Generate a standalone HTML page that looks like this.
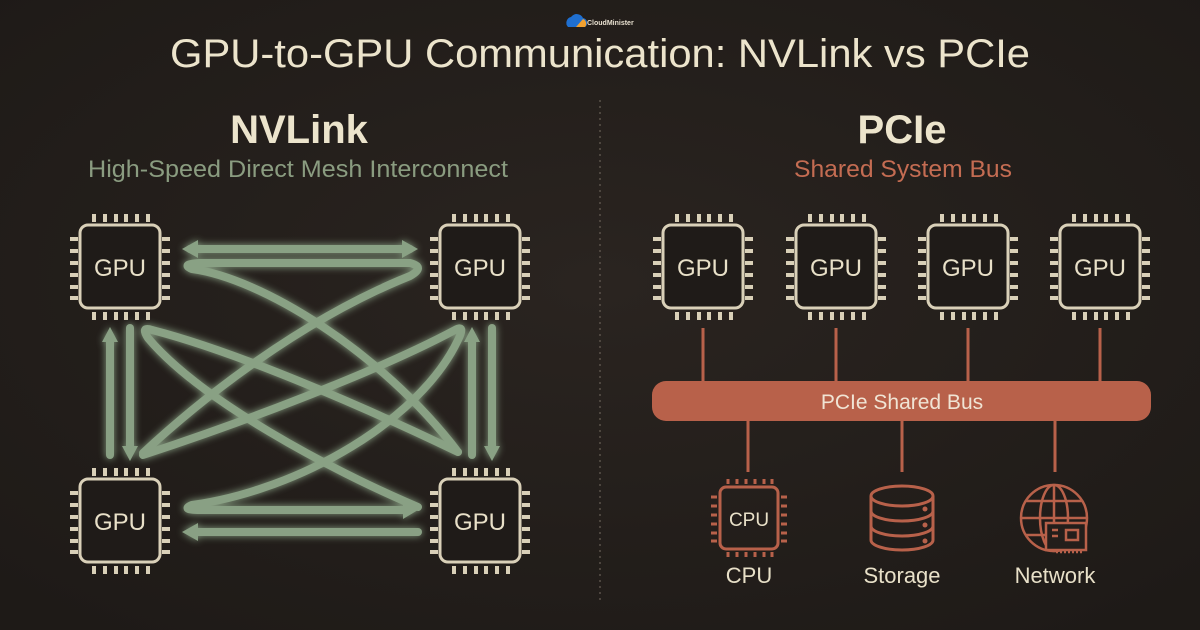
<!DOCTYPE html>
<html><head><meta charset="utf-8"><style>
html,body{margin:0;padding:0;background:#231e1b;}
svg{display:block}
text{font-family:"Liberation Sans",sans-serif;}
</style></head><body>
<svg width="1200" height="630" viewBox="0 0 1200 630" xmlns="http://www.w3.org/2000/svg">
<defs>
<radialGradient id="bg" cx="50%" cy="45%" r="70%"><stop offset="0" stop-color="#2a2420"/><stop offset="1" stop-color="#1e1a17"/></radialGradient>
<filter id="glow" x="-20%" y="-20%" width="140%" height="140%"><feGaussianBlur stdDeviation="4" result="b"/><feMerge><feMergeNode in="b"/><feMergeNode in="SourceGraphic"/></feMerge></filter>
<g id="chip">
<rect x="0" y="0" width="80" height="83" rx="8" fill="#1f1b18" stroke="#d9d0b8" stroke-width="3"/>
<g fill="#d9d0b8">
<rect x="12" y="-11" width="4" height="8"/><rect x="23" y="-11" width="4" height="8"/><rect x="34" y="-11" width="4" height="8"/><rect x="44" y="-11" width="4" height="8"/><rect x="55" y="-11" width="4" height="8"/><rect x="66" y="-11" width="4" height="8"/>
<rect x="12" y="87" width="4" height="8"/><rect x="23" y="87" width="4" height="8"/><rect x="34" y="87" width="4" height="8"/><rect x="44" y="87" width="4" height="8"/><rect x="55" y="87" width="4" height="8"/><rect x="66" y="87" width="4" height="8"/>
<rect x="-10" y="12" width="8" height="4"/><rect x="-10" y="24" width="8" height="4"/><rect x="-10" y="36" width="8" height="4"/><rect x="-10" y="48" width="8" height="4"/><rect x="-10" y="60" width="8" height="4"/><rect x="-10" y="71" width="8" height="4"/>
<rect x="82" y="12" width="8" height="4"/><rect x="82" y="24" width="8" height="4"/><rect x="82" y="36" width="8" height="4"/><rect x="82" y="48" width="8" height="4"/><rect x="82" y="60" width="8" height="4"/><rect x="82" y="71" width="8" height="4"/>
</g>
<text x="40" y="51" font-size="24" fill="#e8e0c8" text-anchor="middle">GPU</text>
</g>
</defs>
<rect width="1200" height="630" fill="url(#bg)"/>

<!-- logo -->
<path d="M568 27 a6 6 0 0 1 3-10 a7 7 0 0 1 12 1 a5 5 0 0 1 2 9 z" fill="#1f6fd0"/>
<path d="M576 27 l7-8 a5 5 0 0 1 2 8 z" fill="#f0a030"/>
<text x="587" y="25" font-size="7" fill="#e8e0d0" font-family="Liberation Serif,serif" font-weight="bold">CloudMinister</text>

<text x="600" y="67" font-size="40" fill="#ece4cc" text-anchor="middle" textLength="860" lengthAdjust="spacingAndGlyphs">GPU-to-GPU Communication: NVLink vs PCIe</text>
<line x1="600" y1="100" x2="600" y2="600" stroke="#5a524a" stroke-width="1.5" stroke-dasharray="2 4"/>

<text x="299" y="143" font-size="40" font-weight="bold" fill="#ece4cc" text-anchor="middle">NVLink</text>
<text x="298" y="177" font-size="24" fill="#8a9c80" text-anchor="middle" textLength="420" lengthAdjust="spacingAndGlyphs">High-Speed Direct Mesh Interconnect</text>
<text x="902" y="143" font-size="40" font-weight="bold" fill="#ece4cc" text-anchor="middle">PCIe</text>
<text x="903" y="177" font-size="24" fill="#c46c52" text-anchor="middle" textLength="218" lengthAdjust="spacingAndGlyphs">Shared System Bus</text>

<!-- NVLink links -->
<g filter="url(#glow)" stroke="#8fa88a" stroke-width="8" fill="none" stroke-linecap="round" opacity="0.95">
<line x1="190" y1="249" x2="410" y2="249"/>
<path d="M182 249 l16 -9 v18 z M418 249 l-16 -9 v18 z" fill="#8fa88a" stroke="none"/>
<path d="M458 452 C380 350 260 278 192 269 Q180 264 200 263 L410 263 Q426 267 410 276 C300 320 200 400 143 453"/>
<path d="M458 452 C350 400 230 350 152 330 Q140 326 148 338 C200 400 330 470 418 507"/>
<path d="M143 455 C250 420 380 370 455 330 Q466 324 458 340 C420 420 300 490 192 505 Q180 510 200 510 L410 510"/>
<path d="M418 510 l-15 -9 v18 z" fill="#8fa88a" stroke="none"/>
<line x1="110" y1="340" x2="110" y2="455"/>
<line x1="130" y1="328" x2="130" y2="446"/>
<path d="M110 327 l-8 15 h16 z M130 461 l-8 -15 h16 z" fill="#8fa88a" stroke="none"/>
<line x1="472" y1="340" x2="472" y2="455"/>
<line x1="492" y1="328" x2="492" y2="446"/>
<path d="M472 327 l-8 15 h16 z M492 461 l-8 -15 h16 z" fill="#8fa88a" stroke="none"/>
<line x1="194" y1="532" x2="418" y2="532"/>
<path d="M182 532 l16 -9 v18 z" fill="#8fa88a" stroke="none"/>
</g>

<use href="#chip" x="80" y="225"/>
<use href="#chip" x="440" y="225"/>
<use href="#chip" x="80" y="479"/>
<use href="#chip" x="440" y="479"/>

<!-- PCIe -->
<g stroke="#b8614a" stroke-width="3">
<line x1="703" y1="328" x2="703" y2="383"/>
<line x1="836" y1="328" x2="836" y2="383"/>
<line x1="968" y1="328" x2="968" y2="383"/>
<line x1="1100" y1="328" x2="1100" y2="383"/>
<line x1="748" y1="420" x2="748" y2="472"/>
<line x1="902" y1="420" x2="902" y2="472"/>
<line x1="1055" y1="420" x2="1055" y2="472"/>
</g>
<rect x="652" y="381" width="499" height="40" rx="14" fill="#b8614a"/>
<text x="902" y="409" font-size="21" fill="#f0e4d4" text-anchor="middle">PCIe Shared Bus</text>

<use href="#chip" x="663" y="225"/>
<use href="#chip" x="796" y="225"/>
<use href="#chip" x="928" y="225"/>
<use href="#chip" x="1060" y="225"/>

<!-- CPU icon -->
<g stroke="#b8614a" fill="none">
<rect x="720" y="487" width="58" height="62" rx="6" stroke-width="3"/>
<g stroke-width="3">
<line x1="728" y1="479" x2="728" y2="484"/><line x1="737" y1="479" x2="737" y2="484"/><line x1="746" y1="479" x2="746" y2="484"/><line x1="755" y1="479" x2="755" y2="484"/><line x1="764" y1="479" x2="764" y2="484"/><line x1="772" y1="479" x2="772" y2="484"/>
<line x1="728" y1="552" x2="728" y2="557"/><line x1="737" y1="552" x2="737" y2="557"/><line x1="746" y1="552" x2="746" y2="557"/><line x1="755" y1="552" x2="755" y2="557"/><line x1="764" y1="552" x2="764" y2="557"/><line x1="772" y1="552" x2="772" y2="557"/>
<line x1="711" y1="497" x2="717" y2="497"/><line x1="711" y1="506" x2="717" y2="506"/><line x1="711" y1="515" x2="717" y2="515"/><line x1="711" y1="524" x2="717" y2="524"/><line x1="711" y1="533" x2="717" y2="533"/><line x1="711" y1="541" x2="717" y2="541"/>
<line x1="781" y1="497" x2="787" y2="497"/><line x1="781" y1="506" x2="787" y2="506"/><line x1="781" y1="515" x2="787" y2="515"/><line x1="781" y1="524" x2="787" y2="524"/><line x1="781" y1="533" x2="787" y2="533"/><line x1="781" y1="541" x2="787" y2="541"/>
</g>
</g>
<text x="749" y="526" font-size="19" fill="#e8e0c8" text-anchor="middle">CPU</text>
<!-- storage -->
<g stroke="#b8614a" stroke-width="3" fill="none">
<ellipse cx="902" cy="496" rx="31" ry="10"/>
<path d="M871 496 V540 A31 10 0 0 0 933 540 V496"/>
<path d="M871 511 A31 10 0 0 0 933 511"/>
<path d="M871 526 A31 10 0 0 0 933 526"/>
</g>
<g fill="#b8614a"><circle cx="925" cy="509" r="2.5"/><circle cx="925" cy="525" r="2.5"/><circle cx="925" cy="541" r="2.5"/></g>
<!-- network -->
<g stroke="#b8614a" stroke-width="2.5" fill="none">
<circle cx="1054" cy="518" r="33"/>
<ellipse cx="1054" cy="518" rx="14" ry="33"/>
<line x1="1054" y1="485" x2="1054" y2="551"/>
<line x1="1021" y1="518" x2="1087" y2="518"/>
<path d="M1026 501 H1082 M1026 535 H1082"/>
<rect x="1046" y="523" width="40" height="27" fill="#231e1b"/>
<rect x="1066" y="530" width="12" height="10"/>
<line x1="1052" y1="530" x2="1058" y2="530"/><line x1="1052" y1="536" x2="1058" y2="536"/>
<line x1="1056" y1="552" x2="1082" y2="552" stroke-dasharray="2 2"/>
</g>

<g font-size="22" fill="#e8e0c8" text-anchor="middle">
<text x="749" y="583">CPU</text>
<text x="902" y="583">Storage</text>
<text x="1055" y="583">Network</text>
</g>
</svg>
</body></html>
